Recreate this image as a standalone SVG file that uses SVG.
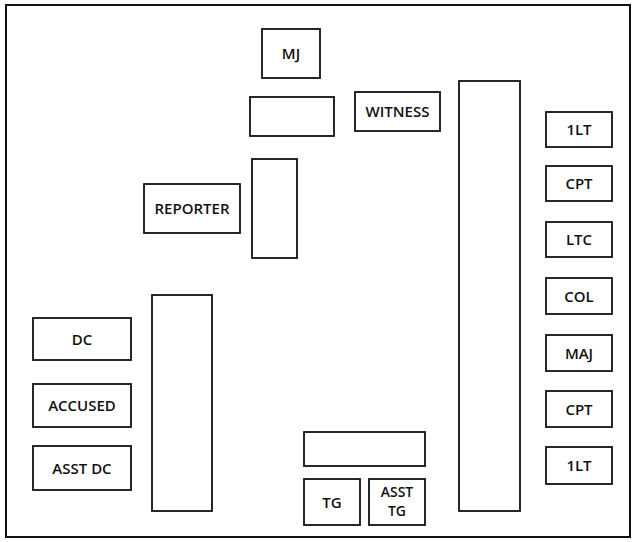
<svg xmlns="http://www.w3.org/2000/svg" width="632" height="542" viewBox="0 0 632 542">
<style>
.b{fill:#fff;stroke:#111;stroke-width:1.8}
.t{font-family:"Open Sans","DejaVu Sans",sans-serif;font-size:15px;font-weight:600;fill:#111;text-anchor:middle}
.s{font-size:14px}
</style>
<rect width="632" height="542" fill="#fff"/>
<rect x="6" y="5" width="624" height="532" fill="none" stroke="#111" stroke-width="2"/>
<g id="mj"><rect class="b" x="262" y="29" width="58" height="49"/><text class="t" x="291" y="59">MJ</text></g>
<g id="bench"><rect class="b" x="250" y="97" width="84" height="39"/></g>
<g id="witness"><rect class="b" x="355" y="92" width="85" height="39"/><text class="t" x="397.5" y="117">WITNESS</text></g>
<g id="reporter"><rect class="b" x="144" y="184" width="96" height="49"/><text class="t" x="192" y="214">REPORTER</text></g>
<g id="reporter-table"><rect class="b" x="252" y="159" width="45" height="99"/></g>
<g id="panel-box"><rect class="b" x="459" y="81" width="61" height="430"/></g>
<g id="m1"><rect class="b" x="546" y="112" width="66" height="35"/><text class="t" x="579" y="135">1LT</text></g>
<g id="m2"><rect class="b" x="546" y="166" width="66" height="35"/><text class="t" x="579" y="189">CPT</text></g>
<g id="m3"><rect class="b" x="546" y="222" width="66" height="35"/><text class="t" x="579" y="245">LTC</text></g>
<g id="m4"><rect class="b" x="546" y="278" width="66" height="36"/><text class="t" x="579" y="302">COL</text></g>
<g id="m5"><rect class="b" x="546" y="335" width="66" height="36"/><text class="t" x="579" y="359">MAJ</text></g>
<g id="m6"><rect class="b" x="546" y="391" width="66" height="36"/><text class="t" x="579" y="415">CPT</text></g>
<g id="m7"><rect class="b" x="546" y="447" width="66" height="37"/><text class="t" x="579" y="471">1LT</text></g>
<g id="defense-table"><rect class="b" x="152" y="295" width="60" height="216"/></g>
<g id="dc"><rect class="b" x="33" y="318" width="98" height="42"/><text class="t" x="82" y="345">DC</text></g>
<g id="accused"><rect class="b" x="33" y="384" width="98" height="43"/><text class="t" x="82" y="411">ACCUSED</text></g>
<g id="asstdc"><rect class="b" x="33" y="446" width="98" height="44"/><text class="t" x="82" y="474">ASST DC</text></g>
<g id="tg-table"><rect class="b" x="304" y="432" width="121" height="34"/></g>
<g id="tg"><rect class="b" x="304" y="479" width="56" height="46"/><text class="t" x="332" y="508">TG</text></g>
<g id="assttg"><rect class="b" x="369" y="479" width="56" height="46"/><text class="t s" x="397" y="497">ASST</text><text class="t s" x="397" y="516">TG</text></g>
<g id="connectors"/>
</svg>
